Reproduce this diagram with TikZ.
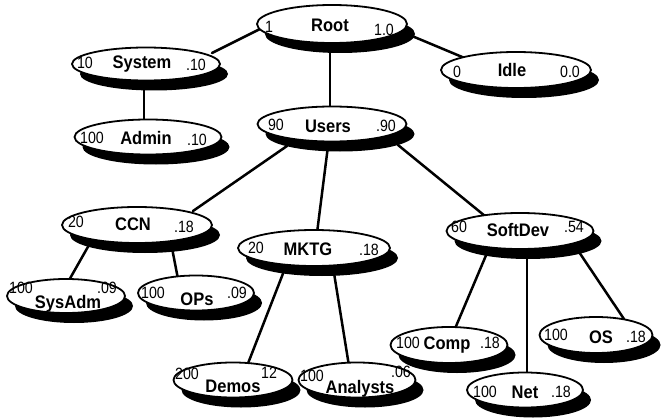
\documentclass[tikz,border=0pt]{standalone}
\usepackage{fontspec}
\setmainfont{Liberation Sans}
\usetikzlibrary{shapes.geometric,shadows,calc,backgrounds}
\newcommand\nmtxt[1]{\scalebox{1}[1.1]{#1}}
\newcommand\numtxt[1]{\scalebox{1}[1.15]{#1}}
\tikzset{
  oval/.style={ellipse, draw=black, line width=1.8pt, fill=white, inner sep=0pt,
    drop shadow={shadow xshift=8pt, shadow yshift=-10pt, opacity=1, fill=black}},
  nm/.style={inner sep=0pt, text height=13pt, text depth=0pt, font=\fontsize{16.5}{18}\selectfont\bfseries},
  num/.style={inner sep=0pt, text height=11.7pt, text depth=0pt, font=\fontsize{14.2}{16}\selectfont},
  link/.style={line width=2.5pt, line cap=round}
}
\begin{document}
\begin{tikzpicture}[x=1pt, y=-1pt]
\useasboundingbox (0,0) rectangle (662,420);
% ellipses
\node[oval, minimum width=150pt, minimum height=38pt] (root) at (332,24) {};
\node[oval, minimum width=148pt, minimum height=33pt] (system) at (146,64) {};
\node[oval, minimum width=147pt, minimum height=35pt] (admin) at (148,137) {};
\node[oval, minimum width=150pt, minimum height=36pt] (idle) at (516,70) {};
\node[oval, minimum width=149pt, minimum height=35pt] (users) at (332,124) {};
\node[oval, minimum width=150pt, minimum height=36pt] (ccn) at (137,225) {};
\node[oval, minimum width=152pt, minimum height=36pt] (mktg) at (314,248) {};
\node[oval, minimum width=147pt, minimum height=36pt] (softdev) at (520,231) {};
\node[oval, minimum width=118pt, minimum height=34pt] (sysadm) at (66,296) {};
\node[oval, minimum width=116pt, minimum height=35pt] (ops) at (196,293) {};
\node[oval, minimum width=119pt, minimum height=35pt] (demos) at (233,380) {};
\node[oval, minimum width=117pt, minimum height=35pt] (analysts) at (357,380) {};
\node[oval, minimum width=117pt, minimum height=36pt] (comp) at (449,345) {};
\node[oval, minimum width=116pt, minimum height=35pt] (net) at (525,390) {};
\node[oval, minimum width=113pt, minimum height=36pt] (os) at (596,335) {};
% names
\node[nm] (root-n) at (330,25) {\nmtxt{Root}};
\node[nm] (system-n) at (142,62) {\nmtxt{System}};
\node[nm] (admin-n) at (146,138) {\nmtxt{Admin}};
\node[nm] (idle-n) at (512,70) {\nmtxt{Idle}};
\node[nm] (users-n) at (328,126) {\nmtxt{Users}};
\node[nm] (ccn-n) at (133,224) {\nmtxt{CCN}};
\node[nm] (mktg-n) at (308,249) {\nmtxt{MKTG}};
\node[nm] (softdev-n) at (518,230) {\nmtxt{SoftDev}};
\node[nm] (sysadm-n) at (68,302) {\nmtxt{SysAdm}};
\node[nm] (ops-n) at (197,299) {\nmtxt{OPs}};
\node[nm] (demos-n) at (233,386) {\nmtxt{Demos}};
\node[nm] (analysts-n) at (360,387) {\nmtxt{Analysts}};
\node[nm] (comp-n) at (447,343) {\nmtxt{Comp}};
\node[nm] (net-n) at (525,392) {\nmtxt{Net}};
\node[nm] (os-n) at (601,337) {\nmtxt{OS}};
% left numbers
\node[num] (root-l) at (269,27) {\numtxt{1}};
\node[num] (system-l) at (85,63) {\numtxt{10}};
\node[num] (admin-l) at (92,138) {\numtxt{100}};
\node[num] (idle-l) at (457,72) {\numtxt{0}};
\node[num] (users-l) at (276,125) {\numtxt{90}};
\node[num] (ccn-l) at (76,222) {\numtxt{20}};
\node[num] (mktg-l) at (256,248) {\numtxt{20}};
\node[num] (softdev-l) at (459,227) {\numtxt{60}};
\node[num] (sysadm-l) at (21,288) {\numtxt{100}};
\node[num] (ops-l) at (153,293) {\numtxt{100}};
\node[num] (demos-l) at (187,374) {\numtxt{200}};
\node[num] (analysts-l) at (312,376) {\numtxt{100}};
\node[num] (comp-l) at (408,343) {\numtxt{100}};
\node[num] (net-l) at (485,392) {\numtxt{100}};
\node[num] (os-l) at (556,335) {\numtxt{100}};
% right numbers
\node[num] (root-r) at (384,30) {\numtxt{1.0}};
\node[num] (system-r) at (196,65) {\numtxt{.10}};
\node[num] (admin-r) at (197,140) {\numtxt{.10}};
\node[num] (idle-r) at (570,72) {\numtxt{0.0}};
\node[num] (users-r) at (386,126) {\numtxt{.90}};
\node[num] (ccn-r) at (184,227) {\numtxt{.18}};
\node[num] (mktg-r) at (369,250) {\numtxt{.18}};
\node[num] (softdev-r) at (574,227) {\numtxt{.54}};
\node[num] (sysadm-r) at (107,288) {\numtxt{.09}};
\node[num] (ops-r) at (237,293) {\numtxt{.09}};
\node[num] (demos-r) at (269,373) {\numtxt{12}};
\node[num] (analysts-r) at (401,372) {\numtxt{.06}};
\node[num] (comp-r) at (490,343) {\numtxt{.18}};
\node[num] (net-r) at (561,392) {\numtxt{.18}};
\node[num] (os-r) at (636,337) {\numtxt{.18}};
% connectors
\begin{scope}[on background layer]
\draw[link] ($(root)+(-70,4)$) -- ($(system)+(66,-11)$);
\draw[link] ($(root)+(-2,20)$) -- ($(users)+(-2,-12)$);
\draw[link] ($(root)+(80,12)$) -- ($(idle)+(-49,-11)$);
\draw[link] ($(system)+(-2,12)$) -- ($(admin)+(-4,-14)$);
\draw[link] ($(users)+(-45,22)$) -- ($(ccn)+(56,-14)$);
\draw[link] ($(users)+(-4,22)$) -- ($(mktg)+(3,-15)$);
\draw[link] ($(users)+(66,21)$) -- ($(softdev)+(-35,-15)$);
\draw[link] ($(ccn)+(-48,20)$) -- ($(sysadm)+(2,-14)$);
\draw[link] ($(ccn)+(35,23)$) -- ($(ops)+(-18,-14)$);
\draw[link] ($(mktg)+(-30,23)$) -- ($(demos)+(14,-14)$);
\draw[link] ($(mktg)+(20,25)$) -- ($(analysts)+(-8,-14)$);
\draw[link] ($(softdev)+(-33,22)$) -- ($(comp)+(5,-14)$);
\draw[link] ($(softdev)+(7,22)$) -- ($(net)+(2,-14)$);
\draw[link] ($(softdev)+(59,21)$) -- ($(os)+(30,-13)$);
\end{scope}
\end{tikzpicture}
\end{document}
